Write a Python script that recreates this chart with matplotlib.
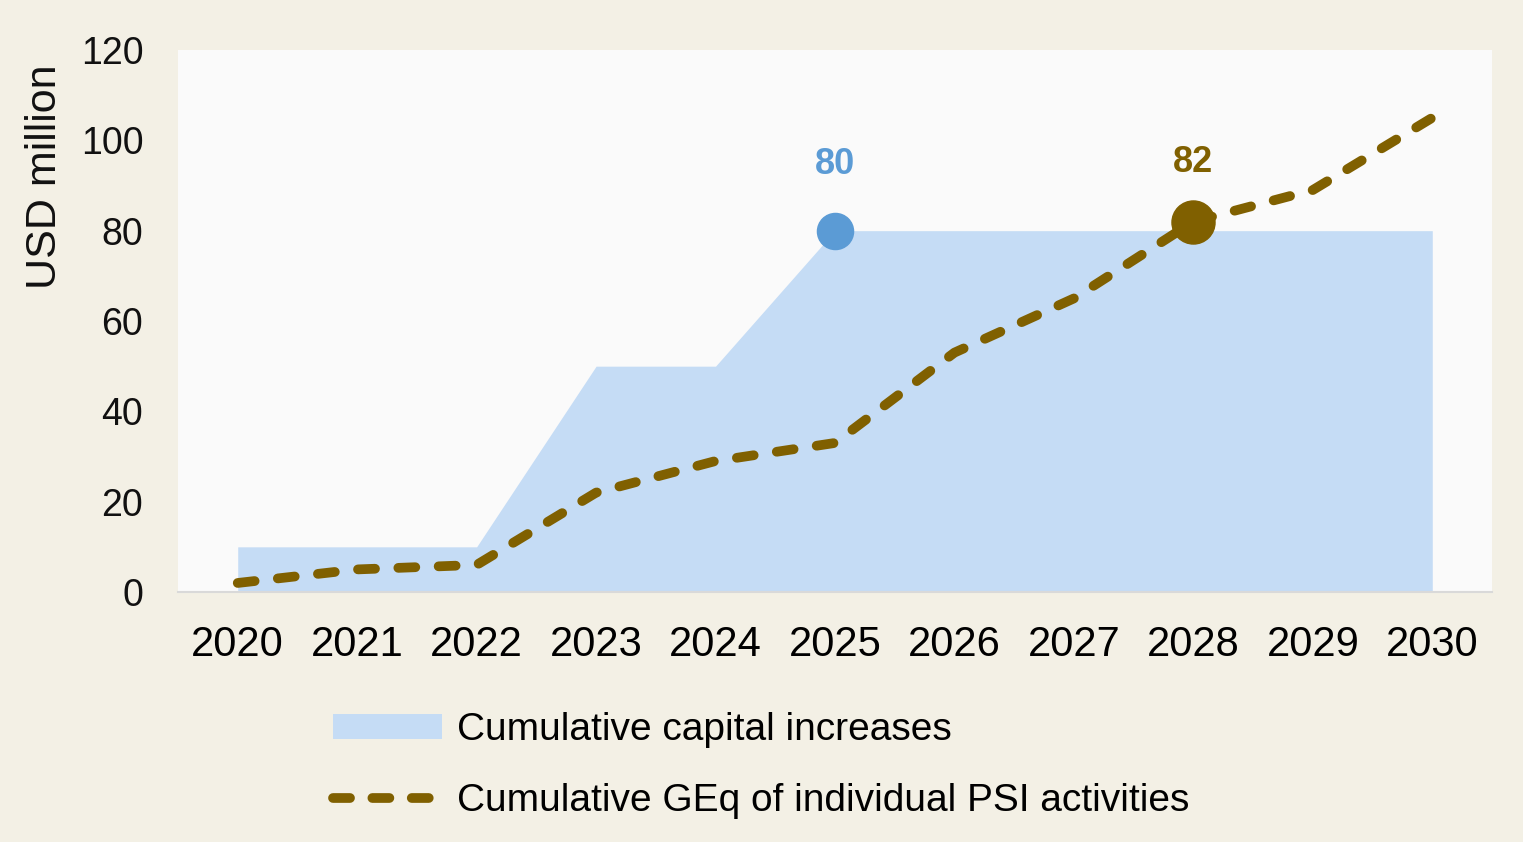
import matplotlib.pyplot as plt
import matplotlib.patches as mpatches
from matplotlib.lines import Line2D

years = [2020, 2021, 2022, 2023, 2024, 2025, 2026, 2027, 2028, 2029, 2030]
capital = [10, 10, 10, 50, 50, 80, 80, 80, 80, 80, 80]
geq = [2, 5, 6, 22, 29, 33, 53, 65, 82, 89, 105]
yticks = [0, 20, 40, 60, 80, 100, 120]

BG = "#F3F0E5"
AREA = "#C5DCF5"
BLUE = "#5B9BD5"
BROWN = "#806000"

plt.rcParams["font.family"] = ["Liberation Sans", "DejaVu Sans"]

fig = plt.figure(figsize=(15.23, 8.42), dpi=100, facecolor=BG)
ax = fig.add_axes([178 / 1523, 1 - 592 / 842, (1492 - 178) / 1523, (592 - 50) / 842])
ax.set_facecolor("#FAFAFA")

ax.fill_between(years, capital, 0, color=AREA, linewidth=0, zorder=1)
ax.plot(years, geq, color=BROWN, lw=7, dashes=(1.75, 2.4),
        dash_capstyle="round", solid_capstyle="round", zorder=3)

# highlighted points
ax.plot([2025], [80], "o", color=BLUE, markersize=26, zorder=4)
ax.text(2025, 90.8, "80", color=BLUE, fontsize=26, fontweight="bold",
        ha="center", va="bottom")
ax.plot([2028], [82], "o", color=BROWN, markersize=31, zorder=4)
ax.text(2028, 91.2, "82", color=BROWN, fontsize=26, fontweight="bold",
        ha="center", va="bottom")

ax.set_xlim(2019.5, 2030.5)
ax.set_ylim(0, 120)
ax.set_xticks(years)
ax.set_xticklabels([str(y) for y in years], fontsize=30)
ax.set_yticks(yticks)
ax.set_yticklabels([str(v) for v in yticks], fontsize=27, color="#111111")
ax.tick_params(axis="x", length=0, pad=24)
ax.tick_params(axis="y", length=0, pad=25)
for s in ["top", "right", "left"]:
    ax.spines[s].set_visible(False)
ax.spines["bottom"].set_color("#D9D9D9")
ax.spines["bottom"].set_linewidth(1.5)

fig.text(45 / 1523, 1 - 177 / 842, "USD million", rotation=90, fontsize=31,
         ha="center", va="center", color="#111111")

handles = [
    mpatches.Patch(facecolor=AREA, edgecolor="none", label="Cumulative capital increases"),
    Line2D([0], [0], color=BROWN, lw=7, dashes=(1.75, 2.3), dash_capstyle="round",
           label="Cumulative GEq of individual PSI activities"),
]
fig.legend(handles=handles, loc="upper left", bbox_to_anchor=(333 / 1523, 1 - 712 / 842),
           frameon=False, fontsize=28, handlelength=2.8, handleheight=0.6,
           handletextpad=0.4, labelspacing=0.9, borderpad=0, borderaxespad=0)

fig.savefig("out.png", dpi=100, facecolor=BG)
